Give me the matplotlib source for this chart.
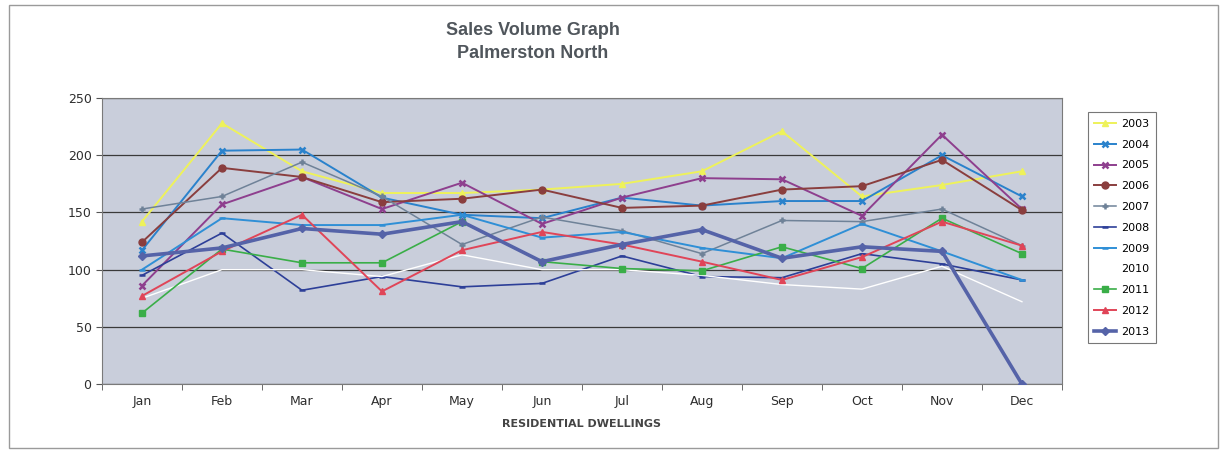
import numpy as np
import matplotlib.pyplot as plt
from matplotlib.patches import Rectangle

months = ['Jan', 'Feb', 'Mar', 'Apr', 'May', 'Jun', 'Jul', 'Aug', 'Sep', 'Oct', 'Nov', 'Dec']
years = ['2003', '2004', '2005', '2006', '2007', '2008', '2009', '2010', '2011', '2012', '2013']

s2003 = [142, 228, 186, 167, 167, 170, 175, 186, 221, 164, 174, 186]
s2004 = [117, 204, 205, 163, 148, 145, 163, 156, 160, 160, 200, 164]
s2005 = [86, 157, 181, 153, 176, 140, 163, 180, 179, 147, 218, 153]
s2006 = [124, 189, 181, 159, 162, 170, 154, 156, 170, 173, 196, 152]
s2007 = [153, 164, 194, 164, 122, 146, 134, 114, 143, 142, 153, 121]
s2008 = [95, 132, 82, 94, 85, 88, 112, 94, 93, 114, 105, 91]
s2009 = [100, 145, 139, 139, 148, 128, 133, 119, 110, 140, 116, 91]
s2010 = [75, 100, 100, 94, 113, 100, 100, 95, 87, 83, 103, 72]
s2011 = [62, 118, 106, 106, 142, 107, 101, 99, 120, 101, 145, 114]
s2012 = [77, 116, 148, 81, 117, 133, 122, 107, 91, 111, 142, 121]
s2013 = [112, 119, 136, 131, 142, 107, 122, 135, 110, 120, 116, 0]

series = [s2003, s2004, s2005, s2006, s2007, s2008, s2009, s2010, s2011, s2012, s2013]
colors = ['#eef25a', '#2a82cc', '#8e3f8e', '#8a3e3e', '#6f8298', '#2d3f98',
          '#2f8fd6', '#ffffff', '#3aae48', '#e04558', '#5563a8']
markers = ['^', 'x', 'x', 'o', '+', '_', '_', None, 's', '^', 'D']
widths = [1.4, 1.4, 1.4, 1.4, 1.1, 1.2, 1.4, 1.0, 1.2, 1.4, 2.6]

fig = plt.figure(figsize=(12.24, 4.54), dpi=100)
fig.patches.append(Rectangle((0.007, 0.013), 0.988, 0.975, transform=fig.transFigure,
                             fill=False, edgecolor='#9a9a9a', lw=1))
ax = fig.add_axes([0.0833, 0.154, 0.7843, 0.630])
ax.set_facecolor('#c9cedb')

x = np.arange(len(months))
for yr, vals, c, m, w in zip(years, series, colors, markers, widths):
    ax.plot(x, vals, color=c, lw=w, marker=m, markersize=5 if m != 'D' else 4.5,
            mew=1.8 if m in ('x', '+', '_') else 1, label=yr, zorder=3)

ax.set_xlim(-0.5, 11.5)
ax.set_ylim(0, 250)
ax.set_yticks([0, 50, 100, 150, 200, 250])
ax.set_xticks(x)
ax.set_xticklabels(months)
ax.set_xticks(np.arange(-0.5, 12, 1), minor=True)
ax.tick_params(axis='x', which='major', length=0, pad=8, labelsize=9, colors='#2e2e2e')
ax.tick_params(axis='x', which='minor', length=4, color='#555555')
ax.tick_params(axis='y', length=4, labelsize=9, colors='#2e2e2e', color='#555555')
ax.grid(axis='y', color='#3a3a3a', lw=0.9, zorder=1)
for sp in ax.spines.values():
    sp.set_color('#7a7a7a')
ax.set_xlabel('RESIDENTIAL DWELLINGS', fontsize=8, fontweight='bold', color='#444444',
              labelpad=8)

fig.text(0.435, 0.932, 'Sales Volume Graph', ha='center', va='center', fontsize=13,
         fontweight='bold', color='#50565c', family='Liberation Sans')
fig.text(0.435, 0.882, 'Palmerston North', ha='center', va='center', fontsize=13,
         fontweight='bold', color='#50565c', family='Liberation Sans')

leg = fig.legend(loc='upper left', bbox_to_anchor=(0.884, 0.765), fontsize=8,
                 frameon=True, fancybox=False, edgecolor='#555555',
                 labelspacing=0.97, handlelength=2.0, borderpad=0.6,
                 handletextpad=0.4)
leg.get_frame().set_linewidth(0.8)

plt.savefig('out.png', dpi=100)
